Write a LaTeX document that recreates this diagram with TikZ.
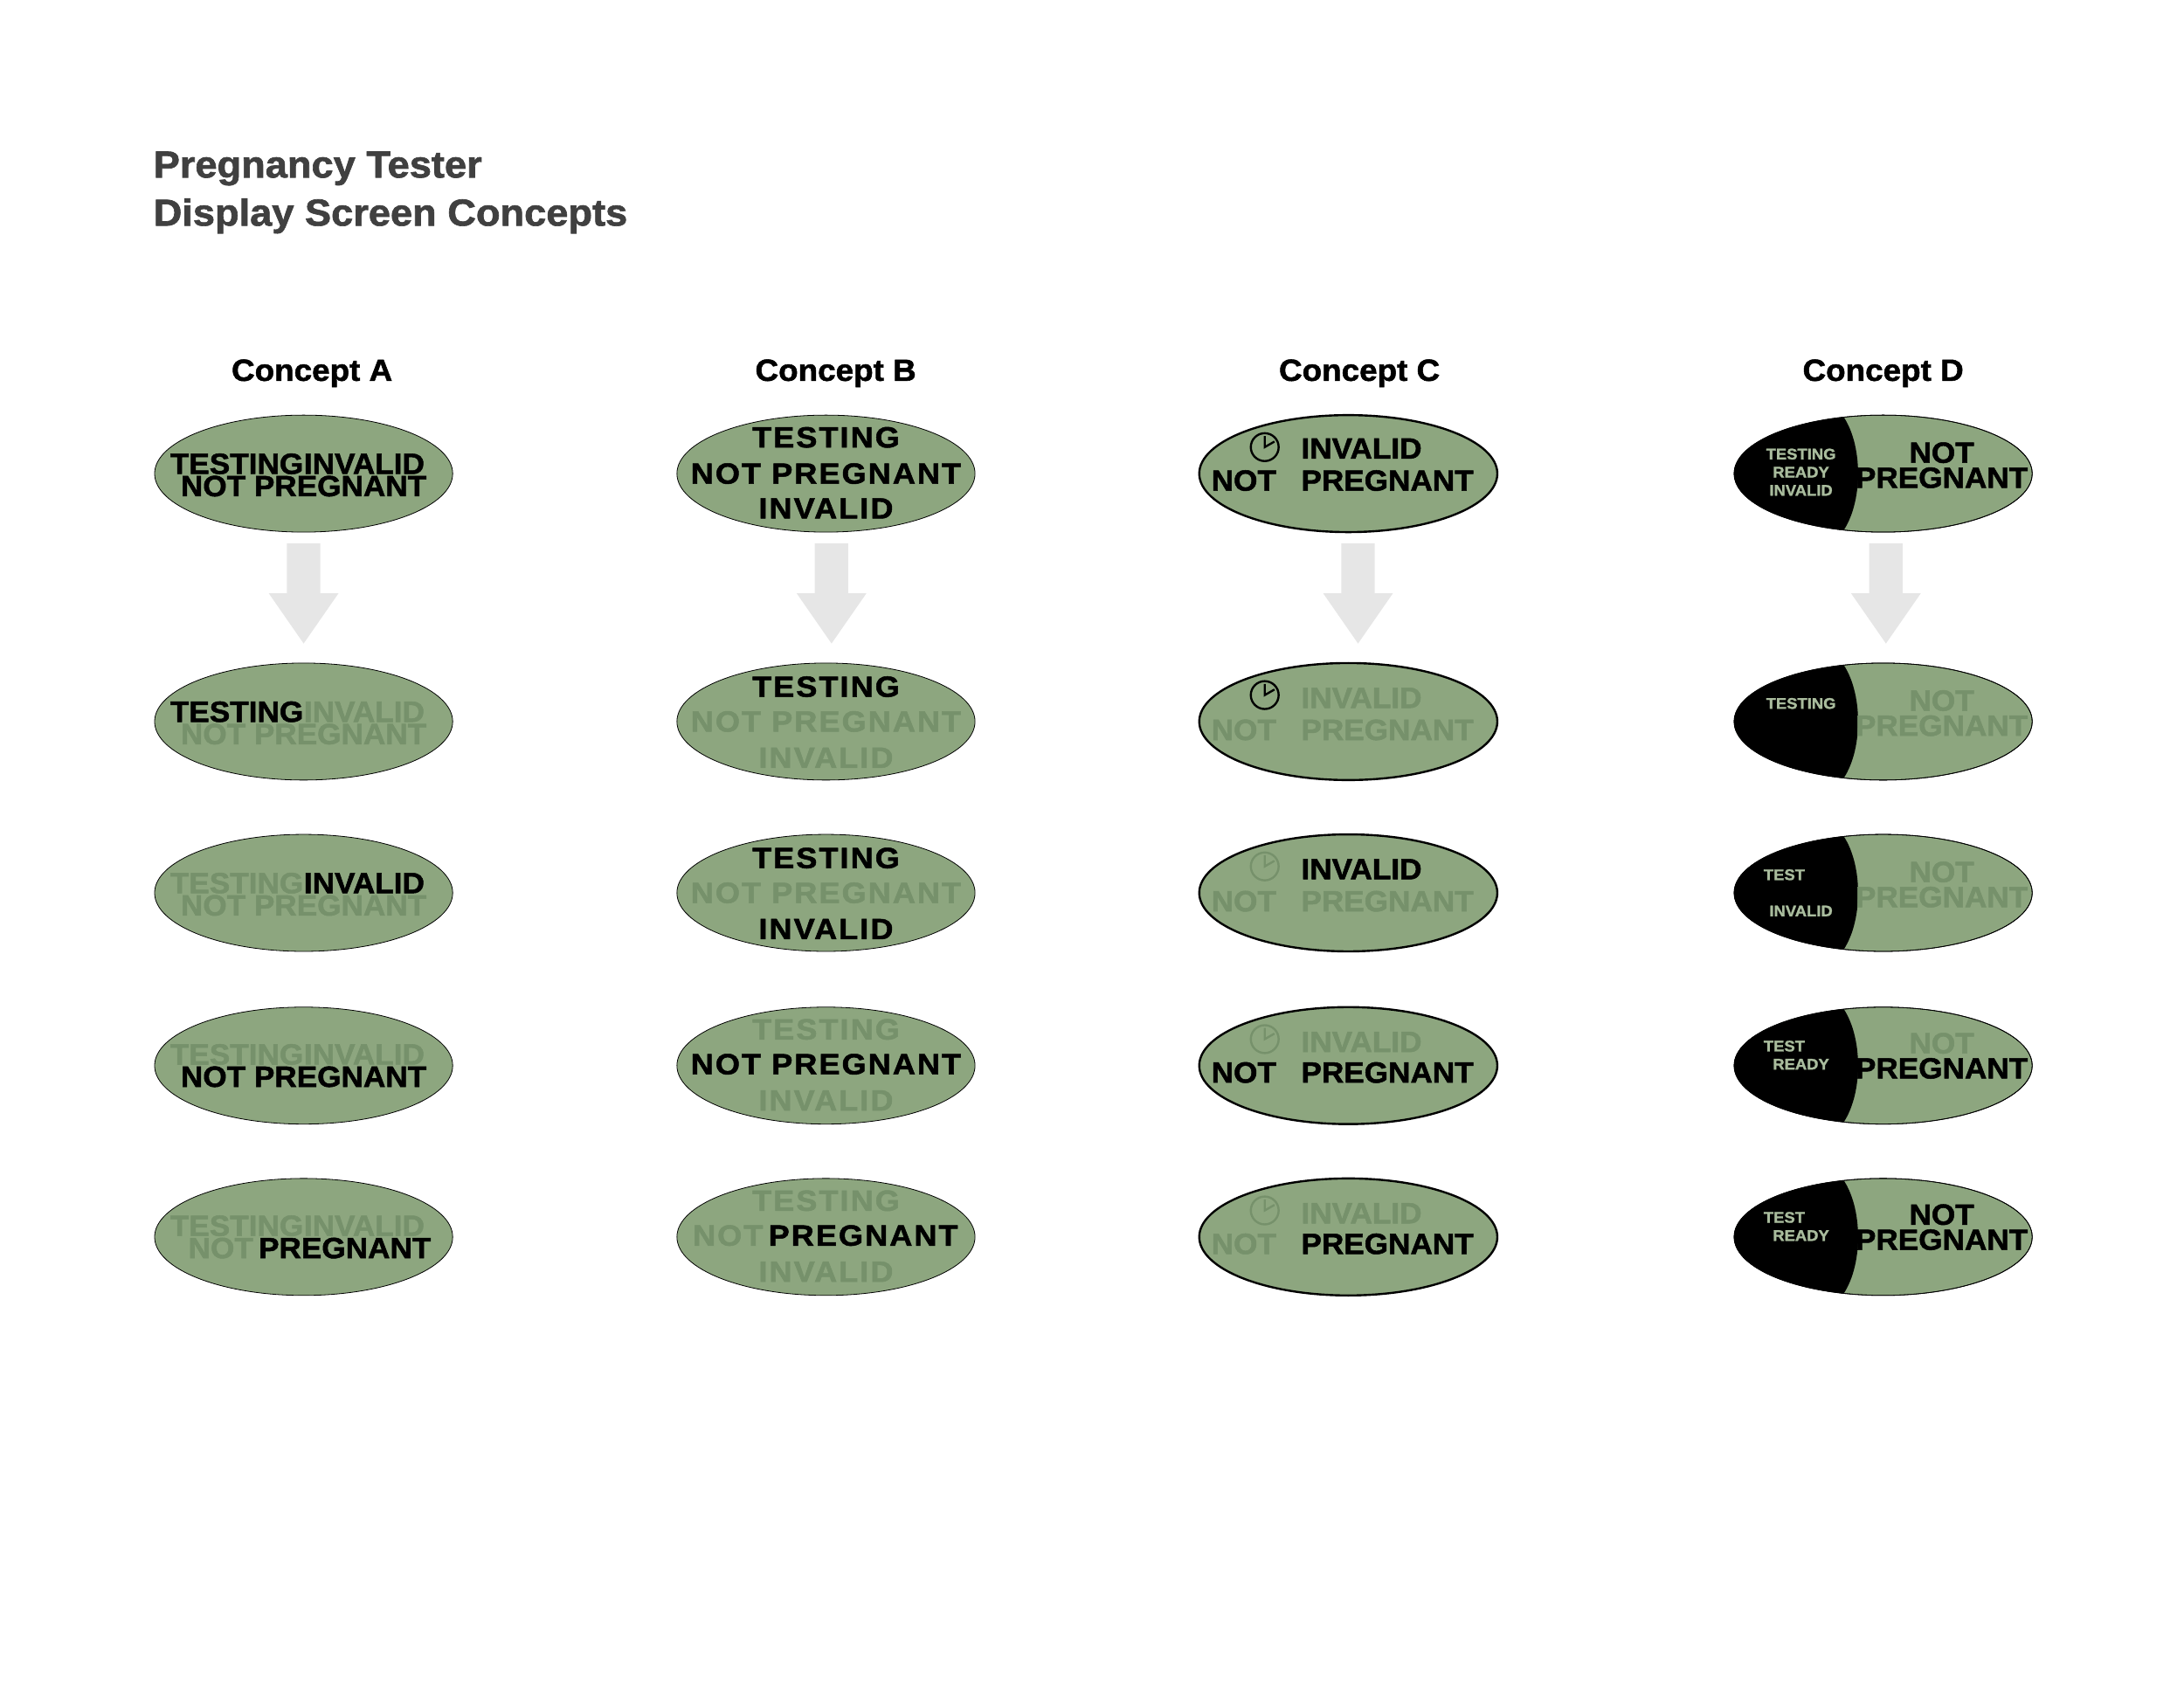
\documentclass[tikz,border=0pt]{standalone}
\usepackage{fontspec}
\setmainfont{Liberation Sans}
\newfontfamily\heavy{Liberation Sans Bold}[FakeBold=1.5,FakeStretch=1.05]
\newfontfamily\heavyw{Liberation Sans Bold}[FakeBold=1.5,FakeStretch=1.08,LetterSpace=6]
\usetikzlibrary{shapes.geometric}
\definecolor{gfill}{HTML}{8DA67F}
\definecolor{gfade}{HTML}{76916B}
\definecolor{glite}{HTML}{A9BC9D}
\definecolor{arr}{HTML}{E6E6E6}
\definecolor{ttl}{HTML}{404040}
\newcounter{nn}
\tikzset{
 scr/.style={ellipse,fill=gfill,draw=black,line width=0.5pt,minimum width=214pt,minimum height=84pt,inner sep=0},
 scrc/.style={scr,line width=1.5pt},
 txt/.style={inner sep=0,font=\fontsize{21}{21}\heavy},
 wide/.style={font=\fontsize{21}{21}\heavyw},
 stx/.style={inner sep=0,font=\fontsize{11}{11}\heavy,text=glite},
 hd/.style={inner sep=0,font=\fontsize{22}{22}\heavy},
}
\newcommand\tx[5][black]{\stepcounter{nn}\node[txt,text=#1,#5] (t\thenn) at (#2,#3) {#4};}
\newcommand\sx[4][glite]{\stepcounter{nn}\node[stx,text=#1] (t\thenn) at (#2,#3) {#4};}
\newcommand\arrowdown[2]{\fill[arr] (#1-12,#2) -- (#1+12,#2) -- (#1+12,#2+36) -- (#1+25,#2+36) -- (#1,#2+72) -- (#1-25,#2+36) -- (#1-12,#2+36) -- cycle;}
\newcommand\clock[3]{\draw[#3,line width=1.5pt] (#1,#2) circle (10) (#1,#2-8) -- (#1,#2) -- (#1+7,#2-4);}
\newcommand\dscr[2]{\node[scr] (#1) at (1352,#2) {};
 \begin{scope}\clip (1352,#2) ellipse (107 and 42);
 \fill[black] (1230,#2-50) -- (1322,#2-43) .. controls (1338,#2-22) and (1338,#2+22) .. (1322,#2+43) -- (1230,#2+50) -- cycle;
 \end{scope}
 \draw[line width=0.5pt] (1352,#2) ellipse (107 and 42);}
\begin{document}
\begin{tikzpicture}[x=1pt,y=-1pt]
\useasboundingbox (0,0) rectangle (1568,1211);
\node[anchor=west,inner sep=0,text=ttl,font=\fontsize{27}{27}\heavy] (title1) at (110,121) {Pregnancy Tester};
\node[anchor=west,inner sep=0,text=ttl,font=\fontsize{27}{27}\heavy] (title2) at (110,155) {Display Screen Concepts};
\node[hd] (ha) at (224,268) {Concept A};
\node[hd] (hb) at (600,268) {Concept B};
\node[hd] (hc) at (976,268) {Concept C};
\node[hd] (hd) at (1352,268) {Concept D};
\arrowdown{218}{390}\arrowdown{597}{390}\arrowdown{975}{390}\arrowdown{1354}{390}
% Concept A
\node[scr] (a1) at (218,340) {}; \tx{218}{333}{TESTING}{anchor=east}\tx{218}{333}{INVALID}{anchor=west}\tx{218}{349}{NOT PREGNANT}{}
\node[scr] (a2) at (218,518) {}; \tx[gfade]{218}{527}{NOT PREGNANT}{}\tx[gfade]{218}{511}{INVALID}{anchor=west}\tx{218}{511}{TESTING}{anchor=east}
\node[scr] (a3) at (218,641) {}; \tx[gfade]{218}{650}{NOT PREGNANT}{}\tx[gfade]{218}{634}{TESTING}{anchor=east}\tx{218}{634}{INVALID}{anchor=west}
\node[scr] (a4) at (218,765) {}; \tx[gfade]{218}{757}{TESTING}{anchor=east}\tx[gfade]{218}{757}{INVALID}{anchor=west}\tx{218}{773}{NOT PREGNANT}{}
\node[scr] (a5) at (218,888) {}; \tx[gfade]{218}{880}{TESTING}{anchor=east}\tx[gfade]{218}{880}{INVALID}{anchor=west}\tx[gfade]{182}{896}{NOT}{anchor=east}\tx{182}{896}{\,PREGNANT}{anchor=west}
% Concept B
\node[scr] (b1) at (593,340) {}; \tx{593}{314}{TESTING}{wide}\tx{593}{340}{NOT PREGNANT}{wide}\tx{593}{365}{INVALID}{wide}
\node[scr] (b2) at (593,518) {}; \tx{593}{493}{TESTING}{wide}\tx[gfade]{593}{518}{NOT PREGNANT}{wide}\tx[gfade]{593}{544}{INVALID}{wide}
\node[scr] (b3) at (593,641) {}; \tx{593}{616}{TESTING}{wide}\tx[gfade]{593}{641}{NOT PREGNANT}{wide}\tx{593}{667}{INVALID}{wide}
\node[scr] (b4) at (593,765) {}; \tx[gfade]{593}{739}{TESTING}{wide}\tx{593}{764}{NOT PREGNANT}{wide}\tx[gfade]{593}{790}{INVALID}{wide}
\node[scr] (b5) at (593,888) {}; \tx[gfade]{593}{862}{TESTING}{wide}\tx[gfade]{548}{887}{NOT}{wide,anchor=east}\tx{548}{887}{\,PREGNANT}{wide,anchor=west}\tx[gfade]{593}{913}{INVALID}{wide}
% Concept C
\node[scrc] (c1) at (968,340) {}; \clock{908}{321}{black}\tx{934}{322}{INVALID}{anchor=west}\tx{893}{345}{NOT}{}\tx{934}{345}{PREGNANT}{anchor=west}
\node[scrc] (c2) at (968,518) {}; \clock{908}{499}{black}\tx[gfade]{934}{501}{INVALID}{anchor=west}\tx[gfade]{893}{524}{NOT}{}\tx[gfade]{934}{524}{PREGNANT}{anchor=west}
\node[scrc] (c3) at (968,641) {}; \clock{908}{622}{gfade}\tx{934}{624}{INVALID}{anchor=west}\tx[gfade]{893}{647}{NOT}{}\tx[gfade]{934}{647}{PREGNANT}{anchor=west}
\node[scrc] (c4) at (968,765) {}; \clock{908}{746}{gfade}\tx[gfade]{934}{748}{INVALID}{anchor=west}\tx{893}{770}{NOT}{}\tx{934}{770}{PREGNANT}{anchor=west}
\node[scrc] (c5) at (968,888) {}; \clock{908}{869}{gfade}\tx[gfade]{934}{871}{INVALID}{anchor=west}\tx[gfade]{893}{893}{NOT}{}\tx{934}{893}{PREGNANT}{anchor=west}
% Concept D
\dscr{d1}{340}\sx{1293}{326}{TESTING}\sx{1293}{339}{READY}\sx{1293}{352}{INVALID}\tx{1394}{325}{NOT}{}\tx{1394}{343}{PREGNANT}{}
\dscr{d2}{518}\sx{1293}{505}{TESTING}\tx[gfade]{1394}{503}{NOT}{}\tx[gfade]{1394}{521}{PREGNANT}{}
\dscr{d3}{641}\sx{1281}{628}{TEST}\sx{1293}{654}{INVALID}\tx[gfade]{1394}{626}{NOT}{}\tx[gfade]{1394}{644}{PREGNANT}{}
\dscr{d4}{765}\sx{1281}{751}{TEST}\sx{1293}{764}{READY}\tx[gfade]{1394}{749}{NOT}{}\tx{1394}{767}{PREGNANT}{}
\dscr{d5}{888}\sx{1281}{874}{TEST}\sx{1293}{887}{READY}\tx{1394}{872}{NOT}{}\tx{1394}{890}{PREGNANT}{}
\end{tikzpicture}
\end{document}
